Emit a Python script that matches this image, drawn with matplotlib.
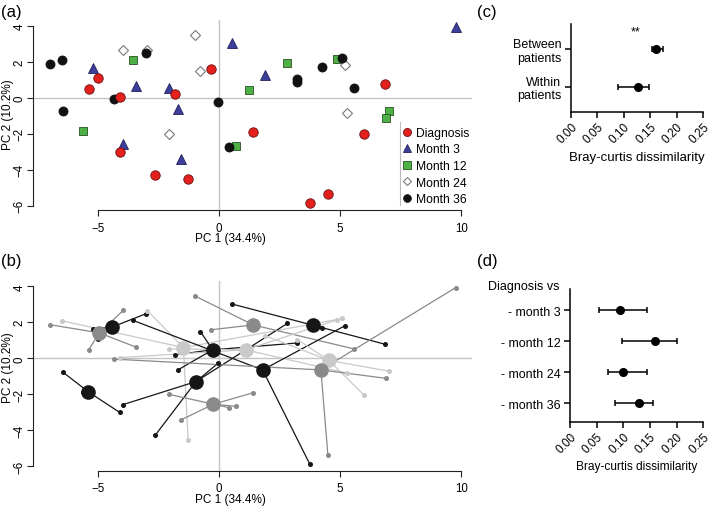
import matplotlib
matplotlib.use("Agg")
import matplotlib.pyplot as plt
from matplotlib.lines import Line2D
import numpy as np

plt.rcParams['font.family'] = ['Liberation Sans', 'DejaVu Sans']

# ---------------- data ----------------
timepoints = ['Diagnosis', 'Month 3', 'Month 12', 'Month 24', 'Month 36']

# patient shade used in panel (b)
patient_shade = ['dark', 'dark', 'mid', 'light', 'dark', 'dark', 'mid',
                 'mid', 'light', 'dark', 'dark', 'light', 'mid']

sample_patient = [1, 1, 1,
                  2, 2, 2,
                  3, 3, 3, 3,
                  4, 4, 4, 4,
                  5, 5, 5, 5,
                  6, 6, 6, 6,
                  7, 7, 7, 7, 7,
                  8, 8, 8,
                  9, 9, 9, 9, 9,
                  10, 10, 10,
                  11, 11, 11,
                  12, 12, 12, 12,
                  13, 13, 13, 13]
sample_time = ['Diagnosis', 'Month 12', 'Month 36',
               'Diagnosis', 'Month 3', 'Month 36',
               'Diagnosis', 'Month 3', 'Month 24', 'Month 36',
               'Diagnosis', 'Month 12', 'Month 24', 'Month 36',
               'Diagnosis', 'Month 3', 'Month 24', 'Month 36',
               'Diagnosis', 'Month 3', 'Month 12', 'Month 36',
               'Diagnosis', 'Month 3', 'Month 12', 'Month 24', 'Month 36',
               'Diagnosis', 'Month 24', 'Month 36',
               'Diagnosis', 'Month 3', 'Month 12', 'Month 24', 'Month 36',
               'Diagnosis', 'Month 3', 'Month 36',
               'Diagnosis', 'Month 12', 'Month 24',
               'Diagnosis', 'Month 3', 'Month 12', 'Month 36',
               'Diagnosis', 'Month 3', 'Month 12', 'Month 36']
pc1 = [-4.11, -5.61, -6.46,
       -5.02, -5.22, -3.03,
       -5.38, -3.45, -3.95, -7.00,
       -1.28, 4.85, -2.96, -6.50,
       -1.84, -1.68, -0.77, 3.23,
       -2.64, -3.96, 2.82, -0.03,
       1.39, -1.57, 0.70, -2.08, 0.40,
       -0.35, -1.01, 5.57,
       -4.08, -2.06, 1.25, 5.29, 5.07,
       6.85, 0.52, 4.26,
       3.74, -3.56, 5.21,
       5.98, 1.90, 7.02, 3.23,
       4.49, 9.77, 6.87, -4.32]
pc2 = [-3.00, -1.85, -0.76,
       1.08, 1.65, 2.47,
       0.48, 0.63, 2.67, 1.87,
       -4.52, 2.15, 2.65, 2.09,
       0.19, -0.63, 1.48, 0.85,
       -4.28, -2.57, 1.94, -0.26,
       -1.92, -3.42, -2.67, -2.00, -2.74,
       1.58, 3.47, 0.52,
       0.04, 0.52, 0.41, -0.83, 2.22,
       0.78, 3.02, 1.71,
       -5.87, 2.11, 1.82,
       -2.04, 1.26, -0.72, 1.04,
       -5.35, 3.93, -1.11, -0.05]

# panel (c)
between_within = ['Between\npatients', 'Within\npatients']
bw_mean = [0.161, 0.127]
bw_low = [0.153, 0.088]
bw_high = [0.174, 0.148]

# panel (d)
diag_vs = ['- month 3', '- month 12', '- month 24', '- month 36']
dv_mean = [0.094, 0.160, 0.099, 0.129]
dv_low = [0.055, 0.098, 0.072, 0.085]
dv_high = [0.144, 0.200, 0.144, 0.155]

# ---------------- styles ----------------
tp_style = {
    'Diagnosis': dict(marker='o', mfc='#E3201C', mec='#6b1010', ms=6.8, mew=0.6),
    'Month 3': dict(marker='^', mfc='#3D3D9C', mec='#20205a', ms=7.5, mew=0.6),
    'Month 12': dict(marker='s', mfc='#4DB148', mec='#24501f', ms=6.2, mew=0.6),
    'Month 24': dict(marker='D', mfc='white', mec='#7a7a7a', ms=4.6, mew=0.8),
    'Month 36': dict(marker='o', mfc='#111111', mec='#111111', ms=6.5, mew=0.6),
}
shade_col = {'dark': '#161616', 'mid': '#8a8a8a', 'light': '#c9c9c9'}

W, H = 709, 510
fig = plt.figure(figsize=(W / 100, H / 100), dpi=100)


def px_axes(l, t, r, b):
    return fig.add_axes([l / W, 1 - b / H, (r - l) / W, (b - t) / H])


pc1a = np.array(pc1)
pc2a = np.array(pc2)
xpad = 0.04 * (pc1a.max() - pc1a.min())
ypad = 0.04 * (pc2a.max() - pc2a.min())
xlim = (pc1a.min() - xpad, pc1a.max() + xpad)
ylim = (pc2a.min() - ypad, pc2a.max() + ypad)


def r_style(ax):
    ax.set_xlim(*xlim)
    ax.set_ylim(*ylim)
    for s in ['top', 'right']:
        ax.spines[s].set_visible(False)
    ax.spines['left'].set_bounds(-6, 4)
    ax.spines['bottom'].set_bounds(-5, 10)
    for s in ['left', 'bottom']:
        ax.spines[s].set_linewidth(0.8)
        ax.spines[s].set_color('#222222')
    ax.set_xticks([-5, 0, 5, 10])
    ax.set_yticks([-6, -4, -2, 0, 2, 4])
    ax.tick_params(direction='out', length=4.5, width=0.8, labelsize=8.3,
                   color='#222222')
    ax.tick_params(axis='x', pad=3.5)
    ax.tick_params(axis='y', pad=1.2)
    for lab in ax.get_yticklabels():
        lab.set_rotation(90)
        lab.set_va('center')
    ax.axhline(0, color='#c4c4c4', lw=1.0, zorder=0)
    ax.axvline(0, color='#c4c4c4', lw=1.0, zorder=0)
    ax.set_xlabel('PC 1 (34.4%)', fontsize=8.5)
    ax.set_ylabel('PC 2 (10.2%)', fontsize=8.5)
    ax.xaxis.set_label_coords(0.45, -0.115)


# ---------------- panel (a) ----------------
ax_a = px_axes(33.3, 21, 472, 211.4)
r_style(ax_a)
ax_a.yaxis.set_label_coords(-0.043, 0.51)
order = ['Month 3', 'Month 12', 'Month 24', 'Month 36', 'Diagnosis']
st = np.array(sample_time)
for tp in order:
    m = st == tp
    ax_a.plot(pc1a[m], pc2a[m], ls='none', **tp_style[tp], zorder=3)

handles = []
for tp in timepoints:
    sty = dict(tp_style[tp])
    sty['ms'] = sty['ms'] * 0.85
    handles.append(Line2D([], [], ls='none', **sty))
leg = ax_a.legend(handles, timepoints, loc='upper left',
                  bbox_to_anchor=(400.5 / W, 1 - 127.8 / H),
                  bbox_transform=fig.transFigure, frameon=False,
                  fontsize=8.7, borderpad=0, handlelength=1.0,
                  handletextpad=0.3, labelspacing=0.38, borderaxespad=0)
fig.add_artist(Line2D([400 / W, 400 / W], [1 - 123 / H, 1 - 206 / H],
                      transform=fig.transFigure, color='#bbbbbb', lw=0.8))

# ---------------- panel (b) ----------------
ax_b = px_axes(33.3, 281.5, 472, 472)
r_style(ax_b)
ax_b.yaxis.set_label_coords(-0.043, 0.55)
sp = np.array(sample_patient)
for p in range(1, 14):
    m = sp == p
    cx, cy = pc1a[m].mean(), pc2a[m].mean()
    col = shade_col[patient_shade[p - 1]]
    for x, y in zip(pc1a[m], pc2a[m]):
        ax_b.plot([cx, x], [cy, y], color=col, lw=0.9, zorder=2)
    ax_b.plot(pc1a[m], pc2a[m], ls='none', marker='o', ms=2.6, color=col, zorder=3)
for p in range(1, 14):
    m = sp == p
    cx, cy = pc1a[m].mean(), pc2a[m].mean()
    col = shade_col[patient_shade[p - 1]]
    ax_b.plot([cx], [cy], ls='none', marker='o', ms=9.5, color=col, zorder=4)


# ---------------- panels (c), (d) ----------------
def gp_style(ax, ylim_):
    ax.set_xlim(0, 0.25)
    ax.set_ylim(*ylim_)
    for s in ['top', 'right']:
        ax.spines[s].set_visible(False)
    for s in ['left', 'bottom']:
        ax.spines[s].set_linewidth(1.1)
    ticks = np.arange(0, 0.2501, 0.05)
    ax.set_xticks(ticks)
    ax.set_xticklabels(['%.2f' % t for t in ticks], rotation=45, ha='right',
                       rotation_mode='anchor', fontsize=8.5)
    ax.tick_params(direction='out', length=4, width=1.1, labelsize=8.5, pad=3)
    ax.tick_params(axis='x', pad=2)


ax_c = px_axes(571, 25, 703.3, 113.3)
gp_style(ax_c, (-0.68, 1.66))
yc = [1, 0]
ax_c.errorbar(bw_mean, yc,
              xerr=[np.array(bw_mean) - np.array(bw_low), np.array(bw_high) - np.array(bw_mean)],
              fmt='o', color='black', ms=5.5, capsize=2.5, elinewidth=1.1, capthick=1.1)
ax_c.set_yticks(yc)
ax_c.set_yticklabels(between_within, fontsize=9, linespacing=1.15)
ax_c.text(0.122, 1.46, '**', ha='center', va='center', fontsize=9)
ax_c.set_xlabel('Bray-curtis dissimilarity', fontsize=9.5)

ax_d = px_axes(570, 290, 703.3, 422.7)
gp_style(ax_d, (-0.6, 3.68))
yd = [3, 2, 1, 0]
ax_d.errorbar(dv_mean, yd,
              xerr=[np.array(dv_mean) - np.array(dv_low), np.array(dv_high) - np.array(dv_mean)],
              fmt='o', color='black', ms=5.5, capsize=2.5, elinewidth=1.1, capthick=1.1)
ax_d.set_yticks(yd)
ax_d.set_yticklabels(diag_vs, fontsize=9)
ax_d.set_xlabel('Bray-curtis dissimilarity', fontsize=8.6)
fig.text(559 / W, 1 - 286.7 / H, 'Diagnosis vs', ha='right', va='center', fontsize=9)

# panel letters
fig.text(1 / W, 1 - 13 / H, '(a)', ha='left', va='center', fontsize=12)
fig.text(1 / W, 1 - 262 / H, '(b)', ha='left', va='center', fontsize=12)
fig.text(477 / W, 1 - 13 / H, '(c)', ha='left', va='center', fontsize=12)
fig.text(477 / W, 1 - 262 / H, '(d)', ha='left', va='center', fontsize=12)

fig.savefig('out.png', dpi=100)
